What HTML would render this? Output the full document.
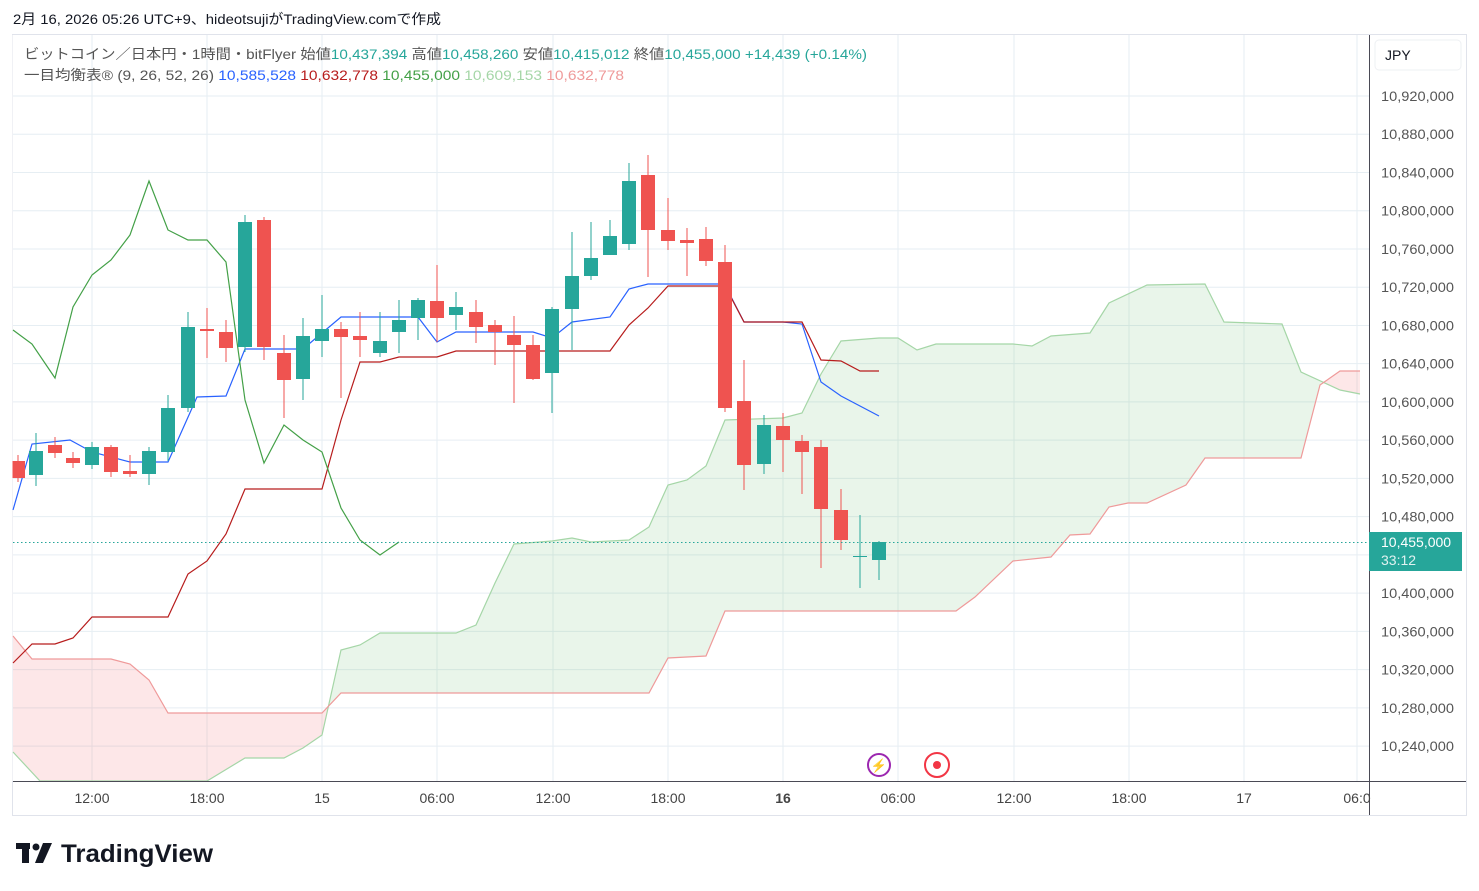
<!DOCTYPE html>
<html><head><meta charset="utf-8"><style>
body{margin:0;background:#fff;width:1479px;height:891px;overflow:hidden;font-family:"Liberation Sans","Noto Sans CJK JP",sans-serif}
svg{position:absolute;left:0;top:0}
</style></head><body>
<svg id="s" width="1479" height="891" xmlns="http://www.w3.org/2000/svg" font-family="Liberation Sans, Noto Sans CJK JP, sans-serif">
<text x="13" y="24" font-size="14" fill="#131722" textLength="428" lengthAdjust="spacingAndGlyphs">2月 16, 2026 05:26 UTC+9、hideotsujiがTradingView.comで作成</text>
<rect x="12.5" y="34.5" width="1454" height="781" fill="none" stroke="#e0e3eb"/>
<g id="grid" stroke="#e6eef3" stroke-width="1"></g>
<g id="cloud"></g>
<g id="lines" fill="none" stroke-width="1.2"></g>
<g id="candles"></g>
<line x1="13" y1="542.5" x2="1369" y2="542.5" stroke="#26a69a" stroke-dasharray="1.5,2.5"/>
<line x1="1369.5" y1="35" x2="1369.5" y2="815" stroke="#4a4a55"/>
<line x1="13" y1="781.5" x2="1466" y2="781.5" stroke="#4a4a55"/>
<rect x="1375" y="40" width="86" height="30" rx="4" fill="#fff" stroke="#eef0f3"/>
<text x="1385" y="60" font-size="14" fill="#131722">JPY</text>
<g id="pl" font-size="14" fill="#555"></g>
<rect x="1369" y="532" width="93" height="39" fill="#26a69a"/>
<text x="1381" y="547" font-size="14" fill="#fff">10,455,000</text>
<text x="1381" y="565" font-size="14" fill="#e0f2f1">33:12</text>
<g id="tl" font-size="14" fill="#444" text-anchor="middle"></g>
<rect x="0" y="35" width="12.5" height="746" fill="#fff"/>
<circle cx="879" cy="765" r="11" fill="#fff" stroke="#9c27b0" stroke-width="2"/>
<text x="879" y="770" font-size="13" fill="#9c27b0" text-anchor="middle">⚡</text>
<circle cx="937" cy="765" r="12" fill="#fff" stroke="#f23645" stroke-width="2"/>
<circle cx="937" cy="765" r="4" fill="#f23645"/>
<g font-size="14">
<text x="24" y="59" fill="#555" textLength="843" lengthAdjust="spacingAndGlyphs">ビットコイン／日本円・1時間・bitFlyer  始値<tspan fill="#26a69a">10,437,394</tspan>  高値<tspan fill="#26a69a">10,458,260</tspan>  安値<tspan fill="#26a69a">10,415,012</tspan>  終値<tspan fill="#26a69a">10,455,000  +14,439 (+0.14%)</tspan></text>
<text x="24" y="80" fill="#555" textLength="600" lengthAdjust="spacingAndGlyphs">一目均衡表® (9, 26, 52, 26)  <tspan fill="#2962ff">10,585,528</tspan>  <tspan fill="#b71c1c">10,632,778</tspan>  <tspan fill="#43a047">10,455,000</tspan>  <tspan fill="#a5d6a7">10,609,153</tspan>  <tspan fill="#ef9a9a">10,632,778</tspan></text>
</g>
<g transform="translate(16,843)"><rect x="0" y="0" width="14" height="6" fill="#131722"/><rect x="6" y="0" width="7" height="20" fill="#131722"/><circle cx="20" cy="4" r="3.5" fill="#131722"/><path d="M27 0h9l-9 20h-8z" fill="#131722"/></g>
<text x="61" y="862" font-size="25" font-weight="bold" fill="#131722" textLength="152" lengthAdjust="spacingAndGlyphs">TradingView</text>
</svg>
<script>
const NS="http://www.w3.org/2000/svg";
function el(p,t,a,txt){const e=document.createElementNS(NS,t);for(const k in a)e.setAttribute(k,a[k]);if(txt)e.textContent=txt;document.getElementById(p).appendChild(e);}
const prices=["10,920,000","10,880,000","10,840,000","10,800,000","10,760,000","10,720,000","10,680,000","10,640,000","10,600,000","10,560,000","10,520,000","10,480,000","10,440,000","10,400,000","10,360,000","10,320,000","10,280,000","10,240,000"];
prices.forEach((p,i)=>{const y=96+i*38.24;el("grid","line",{x1:13,x2:1369,y1:y,y2:y});if(p!="10,440,000")el("pl","text",{x:1381,y:y+5,textLength:73,lengthAdjust:"spacingAndGlyphs"},p);});
const tx=[[92,"12:00"],[207,"18:00"],[322,"15"],[437,"06:00"],[553,"12:00"],[668,"18:00"],[783,"16"],[898,"06:00"],[1014,"12:00"],[1129,"18:00"],[1244,"17"],[1357,"06:0"]];
tx.forEach(([x,t])=>{el("grid","line",{x1:x,x2:x,y1:35,y2:781});el("tl","text",{x:x,y:803,"font-weight":t=="16"?"bold":"normal"},t);});
function pts(a){return a.map(p=>p.join(",")).join(" ");}
const A=[[13,752],[40,781],[207,781],[245,758],[284,758],[303,748],[322,735],[341,650],[360,645],[380,633],[456,633],[476,625],[495,583],[514,544],[552,541],[572,538],[591,542],[629,540],[649,527],[668,485],[687,480],[706,466],[725,420],[783,418],[802,413],[821,374],[841,341],[879,338],[898,338],[917,350],[936,344],[1013,344],[1032,346],[1051,336],[1090,333],[1109,303],[1147,285],[1205,284],[1224,322],[1282,324],[1301,372],[1340,390],[1360,394]];
const B=[[13,636],[32,659],[111,659],[130,664],[149,680],[168,713],[322,713],[341,693],[649,693],[668,658],[706,656],[725,611],[956,611],[975,597],[1013,561],[1051,557],[1070,535],[1090,534],[1109,507],[1128,503],[1147,503],[1186,485],[1205,458],[1301,458],[1320,385],[1340,371],[1360,371]];
function seg(a,x0,x1){return a.filter(p=>p[0]>x0&&p[0]<x1);}
const c1=[328,706],c2=[1323,383];
el("cloud","polygon",{points:pts([[13,636],...seg(B,13,328),c1,...seg(A,13,328).reverse(),[13,752]]),fill:"#f23645","fill-opacity":"0.12"});
el("cloud","polygon",{points:pts([c1,...seg(A,328,1323),c2,...seg(B,328,1323).reverse()]),fill:"#4caf50","fill-opacity":"0.12"});
el("cloud","polygon",{points:pts([c2,...seg(B,1323,1361),...seg(A,1323,1361).reverse()]),fill:"#f23645","fill-opacity":"0.12"});
el("lines","polyline",{points:pts(A),stroke:"#a5d6a7"});
el("lines","polyline",{points:pts(B),stroke:"#ef9a9a"});
el("cloud","rect",{x:13,y:782,width:1355,height:33,fill:"#fff"});
el("lines","polyline",{points:pts([[13,510],[32,444],[70,440],[92,452],[130,462],[168,462],[197,397],[226,396],[245,349],[303,349],[341,317],[418,317],[437,342],[456,332],[533,332],[552,338],[572,322],[610,317],[629,289],[648,284],[720,284],[725,285],[744,322],[783,322],[802,324],[821,382],[841,396],[879,416]]),stroke:"#2962ff"});
el("lines","polyline",{points:pts([[13,663],[32,644],[55,644],[73,638],[92,617],[168,617],[188,574],[207,561],[226,534],[245,489],[322,489],[341,420],[360,362],[380,362],[399,357],[437,357],[456,351],[610,351],[629,325],[648,308],[668,286],[725,286],[744,322],[802,322],[821,360],[841,361],[860,371],[879,371]]),stroke:"#b71c1c"});
el("lines","polyline",{points:pts([[13,330],[32,344],[55,378],[73,307],[92,275],[111,260],[130,235],[149,181],[168,230],[188,240],[207,240],[226,262],[245,400],[264,463],[284,425],[303,440],[322,452],[341,508],[360,540],[380,555],[399,542]]),stroke:"#43a047"});
const C=[[18,461,478,455,482],[36,475,451,433,486],[55,445,453,437,458],[73,458,463,452,468],[92,465,447,442,469],[111,447,472,445,477],[130,471,474,455,477],[149,474,451,447,485],[168,452,408,395,461],[188,408,327,312,412],[207,329,331,308,358],[226,332,348,320,362],[245,347,222,215,352],[264,220,347,217,360],[284,353,380,335,418],[303,379,336,318,400],[322,341,329,295,357],[341,329,337,322,398],[360,336,340,312,357],[380,353,341,312,357],[399,332,320,300,353],[418,318,300,298,340],[437,301,318,265,342],[456,315,307,292,330],[476,312,327,300,343],[495,325,332,320,365],[514,335,345,316,403],[533,345,379,335,380],[552,373,309,307,413],[572,309,276,232,350],[591,276,258,222,280],[610,255,236,220,255],[629,244,181,163,250],[648,175,230,155,277],[668,230,241,198,250],[687,240,243,228,276],[706,239,261,227,266],[725,262,408,245,412],[744,401,465,360,490],[764,464,425,415,474],[783,426,440,413,472],[802,441,452,435,494],[821,447,509,440,568],[841,510,540,489,550],[860,556,556,515,588],[879,560,542,541,580]];
C.forEach(([x,o,c,h,l])=>{const col=c<=o?"#26a69a":"#ef5350";el("candles","line",{x1:x,x2:x,y1:h,y2:l,stroke:col});const t=Math.min(o,c),b=Math.max(o,c);el("candles","rect",{x:x-7,y:t,width:14,height:Math.max(1,b-t),fill:col});});
</script>
</body></html>
